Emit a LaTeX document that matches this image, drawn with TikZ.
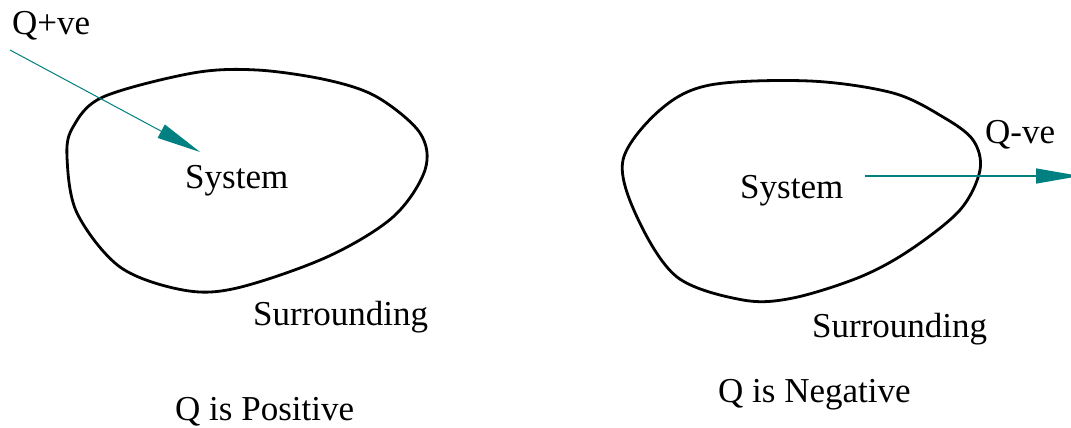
\documentclass[tikz,border=0pt]{standalone}
\usepackage{fontspec}
\setmainfont{Liberation Serif}
\usetikzlibrary{arrows.meta}
\definecolor{heat}{RGB}{0,128,128}
\tikzset{
  lbl/.style={inner sep=0pt, anchor=base west, font=\fontsize{35}{40}\selectfont},
  blob/.style={line width=2.8pt, black},
  heatarrow/.style={heat, line width=1.3pt, -{Triangle[length=44pt,width=15pt]}}
}
\begin{document}
\begin{tikzpicture}[x=1pt,y=-1pt]
\clip (0,0) rectangle (1071,428);
\fill[white] (0,0) rectangle (1071,428);
% left system boundary
\draw[blob] plot[smooth cycle, tension=0.55] coordinates {
  (257,70) (327,80) (377,97) (420,133) (425,170) (393,217) (327,257) (237,288) (183,290) (120,267) (77,213) (67,157) (73,127) (103,97) (193,73)};
% right system boundary
\draw[blob] plot[smooth cycle, tension=0.55] coordinates {
  (810,81) (893,93) (943,117) (973,140) (980,170) (960,210) (910,250) (860,277) (793,298) (743,300) (677,277) (637,217) (623,160) (660,110) (710,85)};
% labels
\node[lbl] (qpos) at (12,35) {Q+ve};
\node[lbl] (sys1) at (185,188) {System};
\node[lbl] (sur1) at (253,325) {Surrounding};
\node[lbl] (cap1) at (175,420) {Q is Positive};
\node[lbl] (sys2) at (740,198) {System};
\node[lbl] (qneg) at (985,143) {Q-ve};
\node[lbl] (sur2) at (812,337) {Surrounding};
\node[lbl] (cap2) at (718,402) {Q is Negative};
% heat arrows
\coordinate (in1) at (10,50);
\coordinate (in2) at (200,152);
\coordinate (out1) at (865,176);
\coordinate (out2) at (1080,176);
\draw[heatarrow, line width=1pt] (in1) -- (in2);
\draw[heatarrow] (out1) -- (out2);
\end{tikzpicture}
\end{document}
